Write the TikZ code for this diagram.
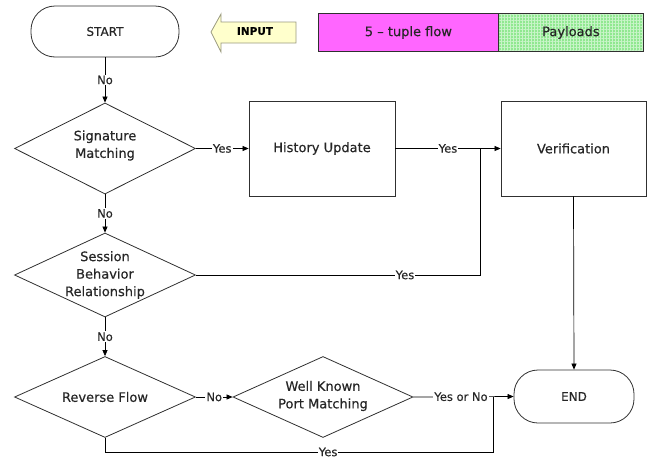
\documentclass[tikz,border=0pt]{standalone}
\usepackage{fontspec}
\setmainfont{DejaVu Sans}[FakeBold=0.35]
\usetikzlibrary{shapes.geometric,arrows.meta,patterns.meta}
\definecolor{magbox}{HTML}{FF66FF}
\definecolor{paygreen}{HTML}{90E890}
\definecolor{paylight}{HTML}{C8F4C8}
\definecolor{inputfill}{HTML}{FFFFCC}
\definecolor{inputline}{HTML}{9A9A80}
\definecolor{shapeline}{HTML}{303030}
\tikzset{
  maintext/.style={font=\fontsize{13}{17.5}\selectfont, text=black!85, align=center, inner sep=0pt},
  term/.style={rectangle, draw=shapeline, line width=0.8pt, rounded corners=24pt, font=\fontsize{12}{14}\selectfont, text=black!85},
  proc/.style={rectangle, draw=shapeline, line width=0.8pt, minimum width=146pt, minimum height=95pt, font=\fontsize{13}{15}\selectfont, text=black!85},
  dia/.style={diamond, draw=shapeline, line width=0.8pt, inner sep=0pt, minimum width=181pt},
  conn/.style={draw=black, line width=0.7pt, -{Triangle[length=6pt,width=5pt]}},
  plain/.style={draw=black, line width=0.7pt},
  lab/.style={fill=white, inner sep=1pt, font=\fontsize{11.5}{13}\selectfont, text=black!85}
}
\begin{document}
\begin{tikzpicture}[x=1pt,y=-1pt]
\useasboundingbox (0,0) rectangle (648,461);
% top row
\node[term, minimum width=148pt, minimum height=51pt] (start) at (105,31.5) {START};
\draw[draw=inputline, fill=inputfill, line width=0.8pt] (211,32) -- (221,14) -- (221,22) -- (296,22) -- (296,43) -- (221,43) -- (221,52) -- cycle;
\node[font=\bfseries\fontsize{10.5}{12}\selectfont] (input) at (255,31) {INPUT};
\node[rectangle, fill=magbox, draw=shapeline, line width=0.8pt, minimum width=180pt, minimum height=38pt, anchor=west] (tuple) at (318,32.5) {};
\node[maintext] (tuplet) at (tuple.center) {5 -- tuple flow};
\fill[paygreen] (498,13.5) rectangle (643,51.5);
\fill[pattern={Lines[angle=90,distance=3pt,line width=0.5pt]}, pattern color=paylight] (498,13.5) rectangle (643,51.5);
\fill[pattern={Lines[angle=0,distance=3pt,line width=0.5pt]}, pattern color=paylight] (498,13.5) rectangle (643,51.5);
\node[rectangle, draw=shapeline, line width=0.8pt, minimum width=145pt, minimum height=38pt, anchor=west] (pay) at (498,32.5) {};
\node[maintext] (payt) at (pay.center) {Payloads};
% diamonds
\node[dia, minimum height=91pt] (sig) at (105,148.5) {};
\node[maintext] (sigt) at (105,145.5) {Signature\\Matching};
\node[dia, minimum height=84pt] (sess) at (105,275) {};
\node[maintext] (sesst) at (105,275) {Session\\Behavior\\Relationship};
\node[dia, minimum height=81pt] (rev) at (105,397) {};
\node[maintext] (revt) at (105,397) {Reverse Flow};
\node[dia, minimum width=180pt, minimum height=81pt] (wk) at (323,397) {};
\node[maintext] (wkt) at (323,396) {Well Known\\Port Matching};
% boxes
\node[proc] (hu) at (322,148.5) {History Update};
\node[proc, minimum width=145pt] (verif) at (573.5,148.5) {Verification};
\node[term, minimum width=120pt, minimum height=53pt] (endn) at (574,396.5) {END};
% junctions
\coordinate (j1) at (480,148.5);
\coordinate (j2) at (493,397);
\coordinate (b1) at (105,452);
\coordinate (b2) at (493,452);
% connectors
\draw[conn] (start.south) -- node[lab]{No} (sig.north);
\draw[conn] (sig.east) -- node[lab]{Yes} (hu.west);
\draw[conn] (hu.east) -- node[lab]{Yes} (verif.west);
\draw[plain] (sess.east) -- node[lab, pos=0.736]{Yes} (sess.east -| j1) -- (j1);
\draw[conn] (sig.south) -- node[lab]{No} (sess.north);
\draw[conn] (sess.south) -- node[lab]{No} (rev.north);
\draw[conn] (rev.east) -- node[lab]{No} (wk.west);
\draw[conn] (wk.east) -- node[lab, pos=0.475]{Yes or No} (endn.west);
\draw[conn] (verif.south) -- (endn.north);
\draw[plain] (rev.south) -- (b1) -- node[lab, pos=0.575, inner sep=0.5pt]{Yes} (b2) -- (j2);
\end{tikzpicture}
\end{document}
